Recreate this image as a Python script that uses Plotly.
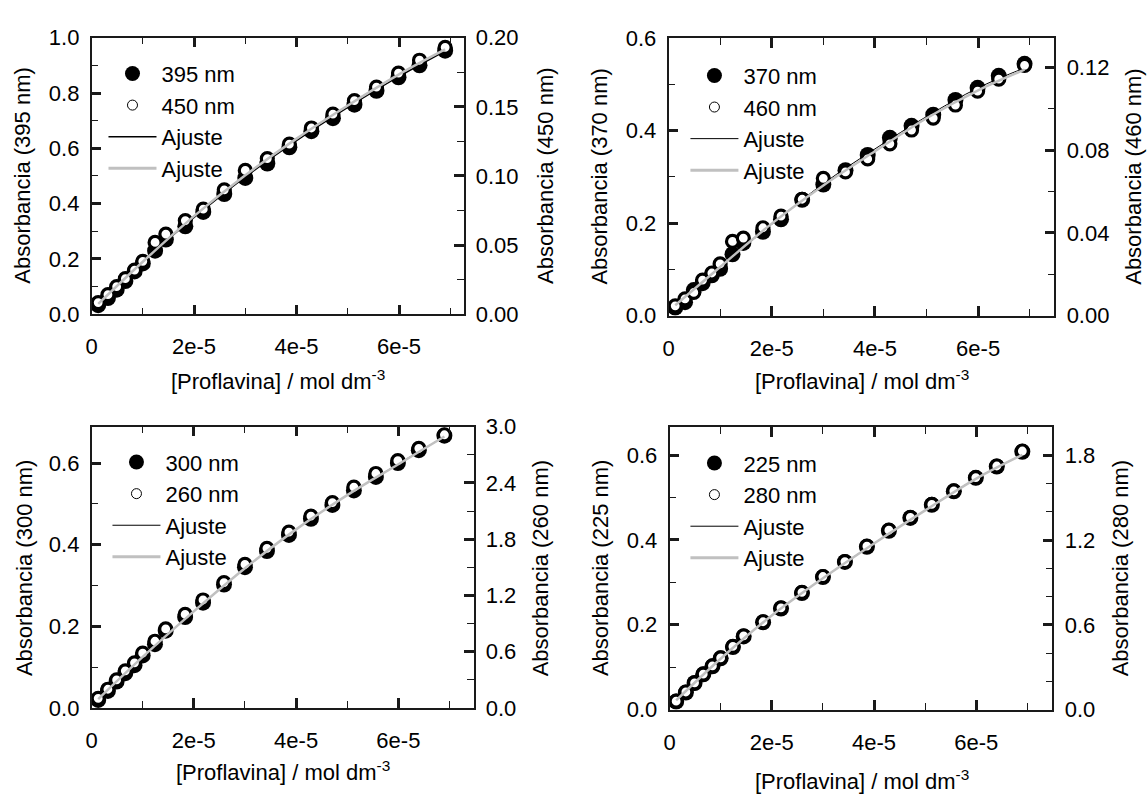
import plotly.graph_objects as go

# ---------------- data ----------------
conc = [1.3e-6, 3.2e-6, 4.9e-6, 6.6e-6, 8.4e-6, 10.0e-6, 12.4e-6, 14.5e-6, 18.3e-6, 21.8e-6,
        25.9e-6, 30.0e-6, 34.3e-6, 38.6e-6, 42.9e-6, 47.1e-6, 51.3e-6, 55.6e-6, 59.9e-6,
        64.0e-6, 69.0e-6]

a395 = [0.033, 0.059, 0.089, 0.120, 0.155, 0.184, 0.230, 0.270, 0.318, 0.370, 0.435, 0.493,
        0.545, 0.604, 0.662, 0.709, 0.758, 0.808, 0.857, 0.900, 0.953]
a450 = [0.0085, 0.0142, 0.0200, 0.0258, 0.0320, 0.0383, 0.0520, 0.0580, 0.0678, 0.0760, 0.0900,
        0.1040, 0.1126, 0.1230, 0.1347, 0.1447, 0.1545, 0.1643, 0.1744, 0.1837, 0.1930]

a370 = [0.017, 0.029, 0.055, 0.070, 0.087, 0.101, 0.1325, 0.157, 0.181, 0.208, 0.250, 0.283,
        0.314, 0.347, 0.384, 0.410, 0.434, 0.466, 0.492, 0.518, 0.544]
a460 = [0.0047, 0.0081, 0.0112, 0.0172, 0.0206, 0.0250, 0.0359, 0.0375, 0.0425, 0.0481, 0.0563,
        0.0664, 0.0695, 0.0758, 0.0831, 0.0898, 0.0956, 0.1019, 0.1086, 0.1144, 0.1211]

a300 = [0.0197, 0.0418, 0.0647, 0.0853, 0.105, 0.1287, 0.1563, 0.1895, 0.2226, 0.258, 0.3025,
        0.345, 0.3845, 0.424, 0.4634, 0.4974, 0.533, 0.566, 0.600, 0.6316, 0.667]
a260 = [0.103, 0.200, 0.299, 0.396, 0.482, 0.585, 0.712, 0.843, 0.998, 1.152, 1.338, 1.531,
        1.703, 1.875, 2.047, 2.191, 2.356, 2.501, 2.638, 2.769, 2.914]

a225 = [0.0189, 0.0401, 0.0628, 0.0832, 0.1021, 0.121, 0.1475, 0.1725, 0.2058, 0.2383, 0.2746,
        0.3124, 0.348, 0.3836, 0.4214, 0.4517, 0.4827, 0.5145, 0.5463, 0.5728, 0.6076]
a280 = [0.060, 0.125, 0.190, 0.252, 0.310, 0.366, 0.447, 0.522, 0.622, 0.720, 0.830, 0.942,
        1.048, 1.157, 1.270, 1.360, 1.452, 1.548, 1.642, 1.724, 1.830]

# fitted curves
fit_x = [1.3e-6, 1e-5, 2e-5, 3e-5, 4e-5, 5e-5, 6e-5, 6.9e-5]
fit395 = [0.035, 0.190, 0.350, 0.497, 0.628, 0.748, 0.860, 0.952]
fit450 = [0.0075, 0.0380, 0.0710, 0.1005, 0.1270, 0.1510, 0.1735, 0.1915]
fit370 = [0.020, 0.104, 0.197, 0.285, 0.360, 0.430, 0.492, 0.535]
fit460 = [0.0050, 0.0235, 0.0445, 0.0630, 0.0795, 0.0955, 0.1090, 0.1190]
fit300 = [0.022, 0.125, 0.237, 0.342, 0.438, 0.521, 0.598, 0.665]
fit260 = [0.095, 0.545, 1.030, 1.490, 1.905, 2.270, 2.600, 2.895]
fit225 = [0.022, 0.120, 0.222, 0.310, 0.392, 0.470, 0.545, 0.601]
fit280 = [0.066, 0.360, 0.666, 0.930, 1.176, 1.410, 1.635, 1.803]

x_tickvals = [0, 2e-5, 4e-5, 6e-5]
x_ticktext = ["0", "2e-5", "4e-5", "6e-5"]

labels_left = ["395 nm", "370 nm", "300 nm", "225 nm"]
labels_right = ["450 nm", "460 nm", "260 nm", "280 nm"]
fit_label = "Ajuste"
x_title = "[Proflavina] / mol dm<sup>-3</sup>"

# ---------------- layout helpers ----------------
W, H = 1147, 805
FONT = "Liberation Sans, Arial, sans-serif"
AX = "#1a1a1a"
FS = 22


def fx(p):
    return p / W


def fy(p):
    return 1 - p / H


panels = [
    dict(box=(86, 460, 26.5, 312), xmax=7.26e-5, ly=(1.0, 0.2, 0.1, "{:.1f}"), ry=(0.20, 0.05, 0.025, "{:.2f}"),
         ydata=(a395, a450), fits=(fit395, fit450), bw=1.6,
         titles=((17, 169), (543, 169), (273, 380)), leg=(98, 42)),
    dict(box=(666, 1054, 26.7, 313.3), xmax=7.48e-5, ly=(0.6, 0.2, 0.1, "{:.1f}"), ry=(0.1344, 0.04, 0.02, "{:.2f}"),
         ydata=(a370, a460), fits=(fit370, fit460), bw=1.0,
         titles=((597, 170), (1134, 170), (860, 380)), leg=(683, 44)),
    dict(box=(86, 470, 428, 718.3), xmax=7.47e-5, ly=(0.689, 0.2, 0.1, "{:.1f}"), ry=(3.0, 0.6, 0.3, "{:.1f}"),
         ydata=(a300, a260), fits=(fit300, fit260), bw=1.0,
         titles=((18, 574), (537, 574), (278, 783)), leg=(102, 443)),
    dict(box=(667, 1052, 428.3, 720), xmax=7.49e-5, ly=(0.666, 0.2, 0.1, "{:.1f}"), ry=(2.0, 0.6, 0.2, "{:.1f}"),
         ydata=(a225, a280), fits=(fit225, fit280), bw=1.0,
         titles=((597, 574), (1120, 574), (860, 793)), leg=(683, 444)),
]

fig = go.Figure()
layout = dict(width=W, height=H, margin=dict(l=0, r=0, t=0, b=0), autosize=False,
              paper_bgcolor="white", plot_bgcolor="white", showlegend=True,
              font=dict(family=FONT, size=FS, color="black"), annotations=[])


def tick_list(vmax, step):
    n = int(round(vmax / step + 1e-9))
    return [round(i * step, 6) for i in range(n + 1) if i * step <= vmax + 1e-9]


for i, p in enumerate(panels):
    k = i + 1
    xa = "x" if k == 1 else f"x{k}"
    yl_n = 2 * k - 1
    yr_n = 2 * k
    yl = "y" if yl_n == 1 else f"y{yl_n}"
    yr = f"y{yr_n}"
    L, R, T, B = p["box"]

    common = dict(showgrid=False, zeroline=False, showline=True, linecolor=AX, linewidth=1.5,
                  ticks="inside", ticklen=10, tickwidth=2.5, tickcolor=AX,
                  tickfont=dict(family=FONT, size=FS, color="black"))

    layout[f"xaxis{'' if k == 1 else k}"] = dict(
        common, domain=[fx(L), fx(R)], anchor=yl, range=[0, p["xmax"]],
        tickmode="array", tickvals=x_tickvals, ticktext=x_ticktext, mirror="ticks",
        ticklabelstandoff=12,
        minor=dict(ticks="inside", ticklen=7, tickwidth=1, tickcolor=AX, dtick=1e-5, tick0=0))

    lmax, ld, lm, lf = p["ly"]
    lv = tick_list(lmax, ld)
    layout[f"yaxis{'' if yl_n == 1 else yl_n}"] = dict(
        common, domain=[fy(B), fy(T)], anchor=xa, range=[0, lmax], side="left",
        tickmode="array", tickvals=lv, ticktext=[lf.format(v) for v in lv],
        ticklabelstandoff=6,
        minor=dict(ticks="inside", ticklen=7, tickwidth=1, tickcolor=AX, dtick=lm, tick0=0))

    rmax, rd, rm, rf = p["ry"]
    rv = tick_list(rmax, rd)
    layout[f"yaxis{yr_n}"] = dict(
        common, domain=[fy(B), fy(T)], anchor=xa, overlaying=yl, range=[0, rmax], side="right",
        tickmode="array", tickvals=rv, ticktext=[rf.format(v) for v in rv],
        ticklabelstandoff=6,
        minor=dict(ticks="inside", ticklen=7, tickwidth=1, tickcolor=AX, dtick=rm, tick0=0))

    leg_name = "legend" if k == 1 else f"legend{k}"
    lx, ly_ = p["leg"]
    layout[leg_name] = dict(x=fx(lx), y=fy(ly_), xanchor="left", yanchor="top",
                            bgcolor="rgba(0,0,0,0)", borderwidth=0, itemwidth=48,
                            tracegroupgap=7, traceorder="normal",
                            font=dict(family=FONT, size=FS, color="black"))

    yfill, yopen = p["ydata"]
    fitl, fitr = p["fits"]

    # data marks
    fig.add_trace(go.Scatter(x=conc, y=yfill, xaxis=xa, yaxis=yl, mode="markers",
                             marker=dict(symbol="circle", size=16, color="black", line=dict(width=0)),
                             showlegend=False, hoverinfo="skip"))
    fig.add_trace(go.Scatter(x=conc, y=yopen, xaxis=xa, yaxis=yr, mode="markers",
                             marker=dict(symbol="circle", size=12, color="white",
                                         line=dict(width=3.2, color="black")),
                             showlegend=False, hoverinfo="skip"))
    fig.add_trace(go.Scatter(x=fit_x, y=fitl, xaxis=xa, yaxis=yl, mode="lines",
                             line=dict(color="black", width=p["bw"], shape="spline"),
                             showlegend=False, hoverinfo="skip"))
    fig.add_trace(go.Scatter(x=fit_x, y=fitr, xaxis=xa, yaxis=yr, mode="lines",
                             line=dict(color="#c0c0c0", width=2.5, shape="spline"),
                             showlegend=False, hoverinfo="skip"))

    # legend entries
    fig.add_trace(go.Scatter(x=[None], y=[None], xaxis=xa, yaxis=yl, mode="markers", name=labels_left[i],
                             marker=dict(symbol="circle", size=15, color="black", line=dict(width=0)),
                             legend=leg_name, legendgroup=f"a{k}"))
    fig.add_trace(go.Scatter(x=[None], y=[None], xaxis=xa, yaxis=yr, mode="markers", name=labels_right[i],
                             marker=dict(symbol="circle", size=10, color="white",
                                         line=dict(width=1, color="black")),
                             legend=leg_name, legendgroup=f"b{k}"))
    fig.add_trace(go.Scatter(x=[None], y=[None], xaxis=xa, yaxis=yl, mode="lines", name=fit_label,
                             line=dict(color="black", width=1.6 if k == 1 else 1.0),
                             legend=leg_name, legendgroup=f"c{k}"))
    fig.add_trace(go.Scatter(x=[None], y=[None], xaxis=xa, yaxis=yr, mode="lines", name=fit_label,
                             line=dict(color="#c0c0c0", width=3),
                             legend=leg_name, legendgroup=f"d{k}"))

    # axis titles
    (lxp, lyp), (rxp, ryp), (xxp, xyp) = p["titles"]
    layout["annotations"] += [
        dict(text=f"Absorbancia ({labels_left[i]})", x=fx(lxp), y=fy(lyp), xref="paper", yref="paper",
             xanchor="center", yanchor="middle", textangle=-90, showarrow=False,
             font=dict(family=FONT, size=FS, color="black")),
        dict(text=f"Absorbancia ({labels_right[i]})", x=fx(rxp), y=fy(ryp), xref="paper", yref="paper",
             xanchor="center", yanchor="middle", textangle=-90, showarrow=False,
             font=dict(family=FONT, size=FS, color="black")),
        dict(text=x_title, x=fx(xxp), y=fy(xyp), xref="paper", yref="paper",
             xanchor="center", yanchor="middle", showarrow=False,
             font=dict(family=FONT, size=FS, color="black")),
    ]

fig.update_layout(**layout)
fig.write_html("out.html", config={"displayModeBar": False},
               post_script="document.body.style.margin='0px';document.body.style.overflow='hidden';")
